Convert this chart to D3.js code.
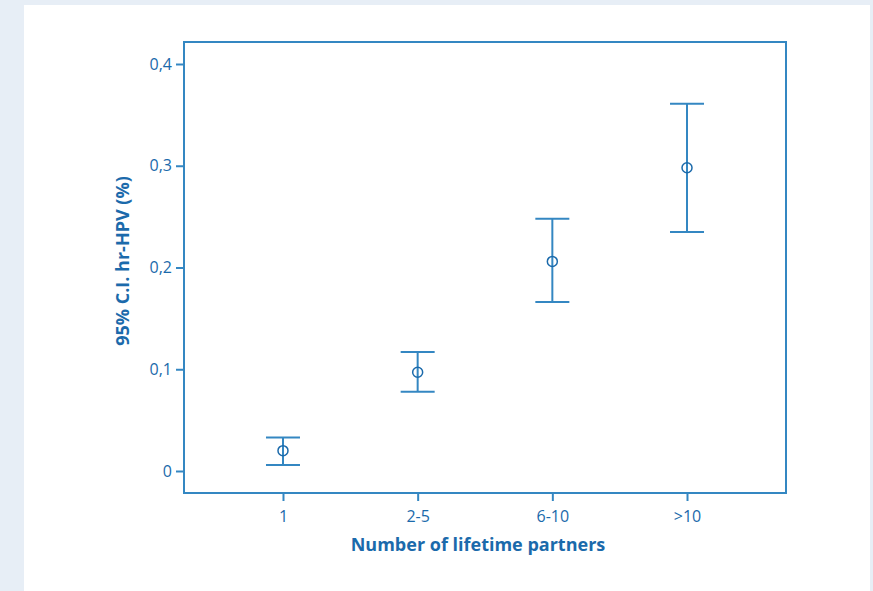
<!DOCTYPE html>
<html>
<head>
<meta charset="utf-8">
<script src="https://cdn.jsdelivr.net/npm/d3@7"></script>
<style>
body { margin:0; background:#e7eef6; }
</style>
</head>
<body>
<div id="chart-area"></div>
<script>
// values
var categories = ["1", "2-5", "6-10", ">10"];
var means = [0.020, 0.097, 0.206, 0.298];
var lower = [0.006, 0.078, 0.166, 0.235];
var upper = [0.033, 0.117, 0.248, 0.361];
var yTicks = [0, 0.1, 0.2, 0.3, 0.4];

var W = 873, H = 591;
var box = {left:184, right:786, top:42, bottom:493};
var textCol = "#1b6aab", lineCol = "#3487c2";

var svg = d3.select("#chart-area")
	.append("svg")
		.attr("width", W)
		.attr("height", H)
		.style("display", "block");

svg.append("rect")
	.attr("x", 0).attr("y", 0)
	.attr("width", W).attr("height", H)
	.attr("fill", "#e7eef6");

svg.append("rect")
	.attr("x", 24).attr("y", 5)
	.attr("width", 846).attr("height", H - 5)
	.attr("fill", "#ffffff");

var x = d3.scalePoint()
	.domain(categories)
	.range([box.left, box.right])
	.padding(0.735);

var y = d3.scaleLinear()
	.domain([0, 0.4])
	.range([471, 64]);

var fmt = function(d){ return d === 0 ? "0" : d3.format(".1f")(d).replace(".", ","); };

// y axis ticks (outside the frame)
var yAxis = svg.append("g")
	.attr("transform", "translate(" + box.left + ",0)")
	.call(d3.axisLeft(y).tickValues(yTicks).tickFormat(fmt).tickSize(8).tickPadding(4));
yAxis.select(".domain").remove();

var xAxis = svg.append("g")
	.attr("transform", "translate(0," + box.bottom + ")")
	.call(d3.axisBottom(x).tickSize(8).tickPadding(10));
xAxis.select(".domain").remove();

svg.selectAll(".tick line")
	.attr("stroke", lineCol)
	.attr("stroke-width", 2);
svg.selectAll(".tick text")
	.attr("fill", textCol)
	.attr("font-family", "Open Sans")
	.attr("font-size", "16px");

// frame
svg.append("rect")
	.attr("x", box.left).attr("y", box.top)
	.attr("width", box.right - box.left)
	.attr("height", box.bottom - box.top)
	.attr("fill", "none")
	.attr("stroke", lineCol)
	.attr("stroke-width", 2);

var data = categories.map(function(c, i){
	return {cat:c, mean:means[i], lo:lower[i], hi:upper[i]};
});

var bars = svg.selectAll(".err")
	.data(data)
	.enter()
	.append("g")
		.attr("class", "err");

bars.append("line")
	.attr("x1", function(d){ return x(d.cat); })
	.attr("x2", function(d){ return x(d.cat); })
	.attr("y1", function(d){ return y(d.lo); })
	.attr("y2", function(d){ return y(d.hi); })
	.attr("stroke", lineCol)
	.attr("stroke-width", 2);

bars.selectAll(".cap")
	.data(function(d){ return [{cat:d.cat, v:d.lo}, {cat:d.cat, v:d.hi}]; })
	.enter()
	.append("line")
		.attr("class", "cap")
		.attr("x1", function(d){ return x(d.cat) - 17; })
		.attr("x2", function(d){ return x(d.cat) + 17; })
		.attr("y1", function(d){ return y(d.v); })
		.attr("y2", function(d){ return y(d.v); })
		.attr("stroke", lineCol)
		.attr("stroke-width", 2);

// hollow mean markers, the bar shows through
bars.append("circle")
	.attr("cx", function(d){ return x(d.cat); })
	.attr("cy", function(d){ return y(d.mean); })
	.attr("r", 5)
	.attr("fill", "none")
	.attr("stroke", textCol)
	.attr("stroke-width", 1.5);

svg.append("text")
	.attr("x", 478)
	.attr("y", 551)
	.attr("text-anchor", "middle")
	.attr("font-family", "Open Sans")
	.attr("font-size", "18px")
	.attr("font-weight", "bold")
	.attr("fill", textCol)
	.text("Number of lifetime partners");

svg.append("text")
	.attr("transform", "translate(129,261) rotate(-90)")
	.attr("text-anchor", "middle")
	.attr("font-family", "Open Sans")
	.attr("font-size", "18px")
	.attr("font-weight", "bold")
	.attr("fill", textCol)
	.text("95% C.I. hr-HPV (%)");
</script>
</body>
</html>
